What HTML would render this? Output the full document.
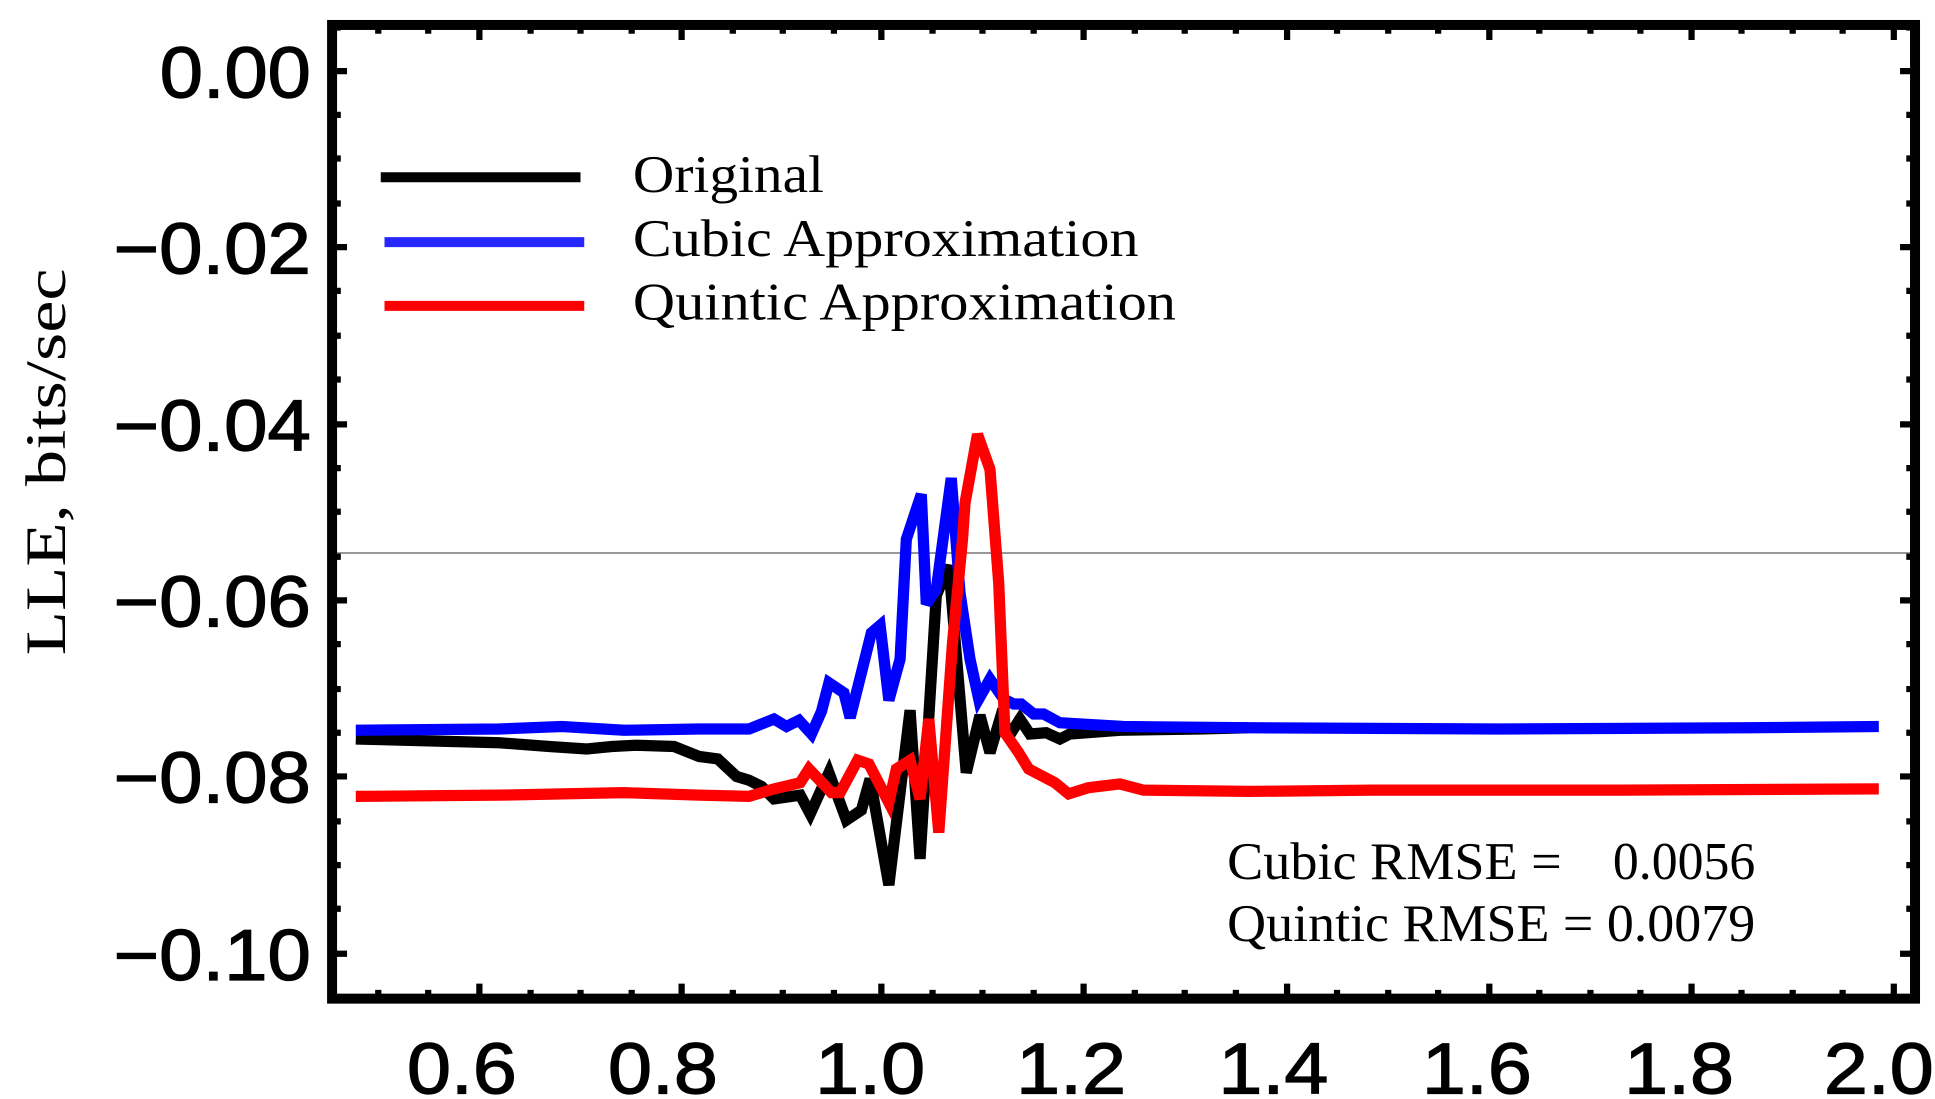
<!DOCTYPE html>
<html><head><meta charset="utf-8"><style>
html,body{margin:0;padding:0;background:#fff;}
svg{display:block;}
</style></head><body>
<svg width="1935" height="1099" viewBox="0 0 1550 880.4" preserveAspectRatio="none" xmlns="http://www.w3.org/2000/svg">
<rect width="1550" height="880.4" fill="#fff"/>
<line x1="262" y1="443" x2="1538" y2="443" stroke="#777" stroke-width="1.2"/>
<g stroke="#000" stroke-width="5">
<path d="M266 57h12M266 198h12M266 340h12M266 481h12M266 622h12M266 764h12M1534 57h-12M1534 198h-12M1534 340h-12M1534 481h-12M1534 622h-12M1534 764h-12"/>
<path d="M266 92h7M266 127h7M266 163h7M266 233h7M266 269h7M266 304h7M266 375h7M266 410h7M266 446h7M266 516h7M266 552h7M266 587h7M266 658h7M266 693h7M266 728h7M266 22h7M1534 92h-7M1534 127h-7M1534 163h-7M1534 233h-7M1534 269h-7M1534 304h-7M1534 375h-7M1534 410h-7M1534 446h-7M1534 516h-7M1534 552h-7M1534 587h-7M1534 658h-7M1534 693h-7M1534 728h-7M1534 22h-7"/>
<path d="M384 800v-12M546 800v-12M706 800v-12M868 800v-12M1031 800v-12M1193 800v-12M1355 800v-12M1517 800v-12M384 20v12M546 20v12M706 20v12M868 20v12M1031 20v12M1193 20v12M1355 20v12M1517 20v12"/>
<path d="M303 800v-7M343 800v-7M425 800v-7M465 800v-7M506 800v-7M587 800v-7M627 800v-7M668 800v-7M747 800v-7M787 800v-7M828 800v-7M909 800v-7M949 800v-7M990 800v-7M1071 800v-7M1112 800v-7M1152 800v-7M1233 800v-7M1274 800v-7M1314 800v-7M1395 800v-7M1436 800v-7M1476 800v-7M303 20v7M343 20v7M425 20v7M465 20v7M506 20v7M587 20v7M627 20v7M668 20v7M747 20v7M787 20v7M828 20v7M909 20v7M949 20v7M990 20v7M1071 20v7M1112 20v7M1152 20v7M1233 20v7M1274 20v7M1314 20v7M1395 20v7M1436 20v7M1476 20v7"/>
</g>
<rect x="266" y="20" width="1268" height="780" fill="none" stroke="#000" stroke-width="8"/>
<g fill="none" stroke-width="9" stroke-linejoin="miter" stroke-miterlimit="3">
<polyline stroke="#000" points="285,592 400,595 440,598 470,600 490,598 510,597 540,598 560,606 575,608 590,622 600,625 610,630 620,640 641,637 649,652 664,619 678,657 690,649 697,624 712,709 729,569 737,688 750,477 760,453 774,619 785,573 793,603 801,576 810,587 817,576 825,588 838,587 849,592 857,588 897,585 960,584 1000,583"/>
<polyline stroke="#0000ff" points="285,585 400,584 450,582 500,585 560,584 600,584 610,580 620,576 630,582 640,577 650,588 658,570 664,547 676,555 681,575 698,507 705,501 712,561 721,528 726,432 738,396 742,484 750,472 762,383 769,475 777,528 784,560 793,544 804,560 812,564 818,564 828,572 836,572 849,579 900,582 1000,583 1200,584 1400,583 1505,582"/>
<polyline stroke="#ff0000" points="285,638 400,637 500,635 560,637 600,638 620,632 641,627 648,616 666,635 673,635 687,609 696,612 712,643 718,616 729,609 737,640 744,576 752,667 763,515 771,432 773,403 783,348 793,376 800,467 805,587 816,603 824,616 845,627 856,636 872,631 897,628 916,633 1000,634 1100,633 1300,633 1505,632"/>
</g>
<g stroke-width="8">
<line x1="305" y1="142" x2="465" y2="142" stroke="#000"/>
<line x1="308" y1="194" x2="468" y2="194" stroke="#0000ff" stroke-opacity="0.85"/>
<line x1="308" y1="245" x2="468" y2="245" stroke="#ff0000"/>
</g>
<g font-family="Liberation Serif, serif" font-size="42" fill="#000">
<text x="507" y="154" textLength="153" lengthAdjust="spacingAndGlyphs">Original</text>
<text x="507" y="205" textLength="405" lengthAdjust="spacingAndGlyphs">Cubic Approximation</text>
<text x="507" y="256" textLength="435" lengthAdjust="spacingAndGlyphs">Quintic Approximation</text>
<text x="983" y="704" textLength="268" lengthAdjust="spacingAndGlyphs">Cubic RMSE =</text>
<text x="1292" y="704" textLength="114" lengthAdjust="spacingAndGlyphs">0.0056</text>
<text x="983" y="754" textLength="423" lengthAdjust="spacingAndGlyphs">Quintic RMSE = 0.0079</text>
<text transform="translate(52,370) rotate(-90)" text-anchor="middle" font-size="46" textLength="310" lengthAdjust="spacingAndGlyphs">LLE, bits/sec</text>
</g>
<g font-family="Liberation Sans, sans-serif" font-size="58" fill="#000" stroke="#000" stroke-width="1" text-anchor="end">
<text x="249" y="78" textLength="121" lengthAdjust="spacingAndGlyphs">0.00</text>
<text x="249" y="219" textLength="158" lengthAdjust="spacingAndGlyphs">−0.02</text>
<text x="249" y="361" textLength="158" lengthAdjust="spacingAndGlyphs">−0.04</text>
<text x="249" y="502" textLength="158" lengthAdjust="spacingAndGlyphs">−0.06</text>
<text x="249" y="643" textLength="158" lengthAdjust="spacingAndGlyphs">−0.08</text>
<text x="249" y="785" textLength="158" lengthAdjust="spacingAndGlyphs">−0.10</text>
</g>
<g font-family="Liberation Sans, sans-serif" font-size="58" fill="#000" stroke="#000" stroke-width="1" text-anchor="middle">
<text x="370" y="876" textLength="88" lengthAdjust="spacingAndGlyphs">0.6</text>
<text x="531" y="876" textLength="88" lengthAdjust="spacingAndGlyphs">0.8</text>
<text x="697" y="876" textLength="88" lengthAdjust="spacingAndGlyphs">1.0</text>
<text x="858" y="876" textLength="88" lengthAdjust="spacingAndGlyphs">1.2</text>
<text x="1020" y="876" textLength="88" lengthAdjust="spacingAndGlyphs">1.4</text>
<text x="1183" y="876" textLength="88" lengthAdjust="spacingAndGlyphs">1.6</text>
<text x="1345" y="876" textLength="88" lengthAdjust="spacingAndGlyphs">1.8</text>
<text x="1505" y="876" textLength="88" lengthAdjust="spacingAndGlyphs">2.0</text>
</g>
</svg>
</body></html>
